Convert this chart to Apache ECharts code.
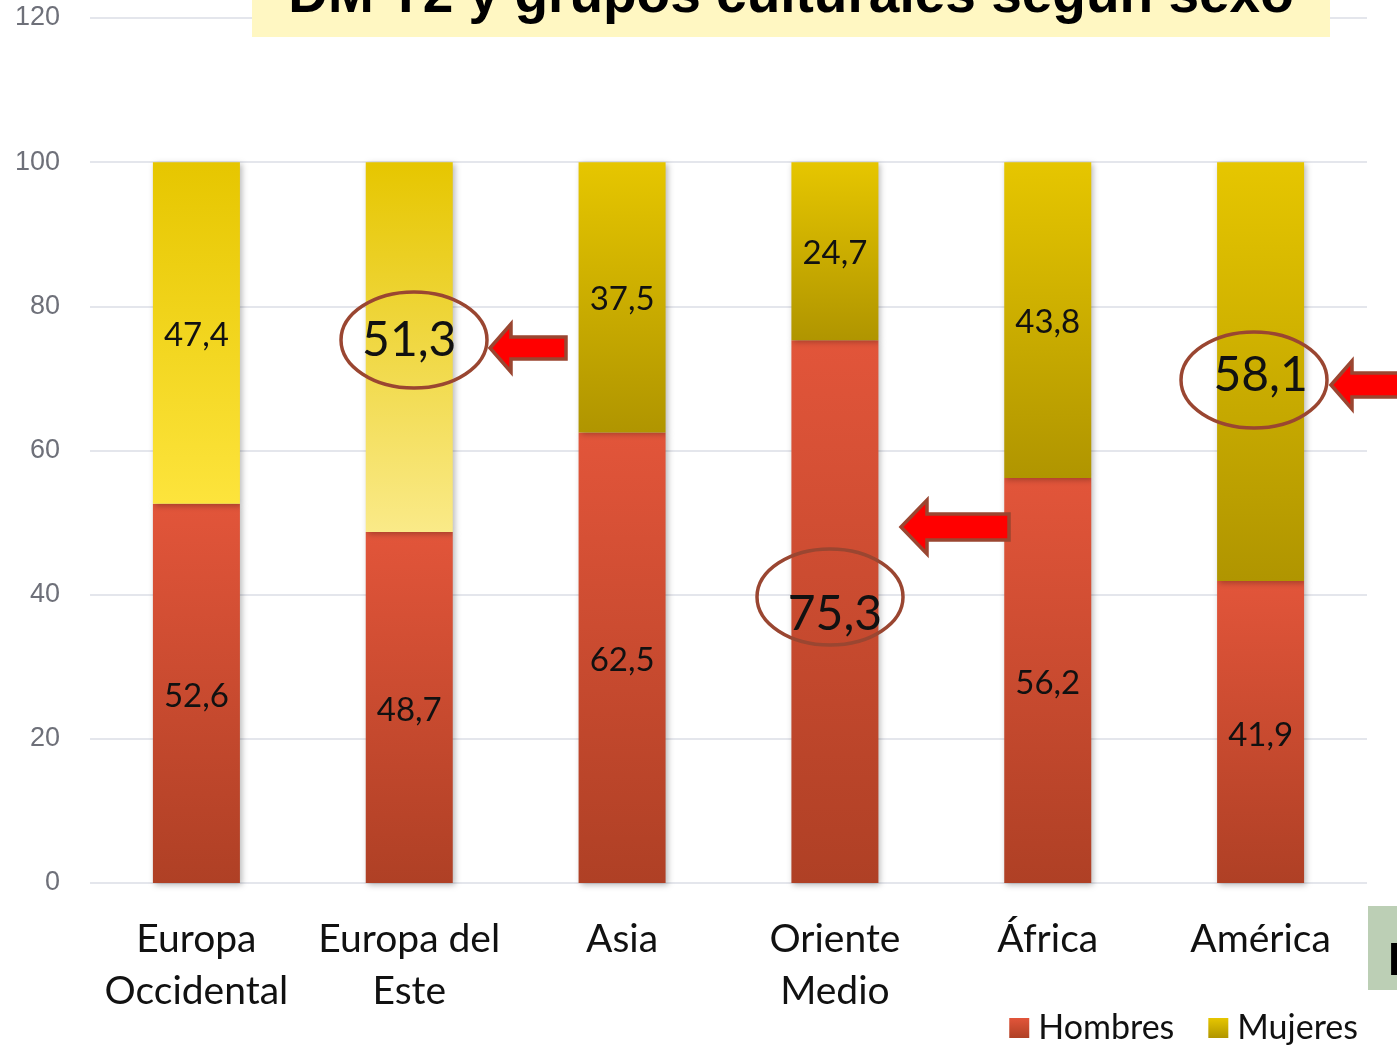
<!DOCTYPE html>
<html>
<head>
<meta charset="utf-8">
<script src="https://cdn.jsdelivr.net/npm/echarts@6/dist/echarts.min.js"></script>
<style>
html,body{margin:0;padding:0;background:#fff;}
#chart{width:1397px;height:1048px;}
</style>
</head>
<body>
<div id="chart"></div>
<script>
// ---- data ----
const categories = ['Europa\nOccidental', 'Europa del\nEste', 'Asia', 'Oriente\nMedio', 'África', 'América'];
const hombres = [52.6, 48.7, 62.5, 75.3, 56.2, 41.9];
const mujeres = [47.4, 51.3, 37.5, 24.7, 43.8, 58.1];
const yTicks = [0, 20, 40, 60, 80, 100, 120];
const seriesNames = ['Hombres', 'Mujeres'];
const titleText = 'DM T2 y grupos culturales según sexo';
const highlightedHombres = [3];      // Oriente Medio
const highlightedMujeres = [1, 5];   // Europa del Este, América

// ---- style ----
const FONT = 'Lato, "Noto Sans", sans-serif';
const mujeresBottom = ['#FDE43C', '#FAEA88', '#B09500', '#B09500', '#B09500', '#B09500'];
const bigLabelOffsetH = { 3: [0, 3] };
const bigLabelOffsetM = { 1: [0, -7], 5: [0, 4] };
function grad(top, bottom) {
  return new echarts.graphic.LinearGradient(0, 0, 0, 1, [
    { offset: 0, color: top }, { offset: 1, color: bottom }
  ]);
}
const shadow = { shadowBlur: 6, shadowColor: 'rgba(0,0,0,0.28)', shadowOffsetX: 2, shadowOffsetY: 2 };
const fmt = v => String(v).replace('.', ',');

const chart = echarts.init(document.getElementById('chart'), null, { renderer: 'canvas' });

const hData = hombres.map((v, i) => ({
  value: v,
  itemStyle: Object.assign({ color: grad('#E2553A', '#AF4025') }, shadow),
  label: highlightedHombres.includes(i) ? { fontSize: 48, offset: bigLabelOffsetH[i] } : undefined
}));
const mData = mujeres.map((v, i) => ({
  value: v,
  itemStyle: Object.assign({ color: grad('#E6C600', mujeresBottom[i]) }, shadow),
  label: highlightedMujeres.includes(i) ? { fontSize: 48, offset: bigLabelOffsetM[i] } : undefined
}));

const option = {
  animation: false,
  grid: { left: 90, right: 30, top: 18, bottom: 165 },
  legend: {
    data: seriesNames,
    icon: 'rect',
    right: 34, bottom: -2,
    itemWidth: 20, itemHeight: 20, itemGap: 34,
    textStyle: { fontFamily: FONT, fontSize: 34, color: '#111', padding: [0, 0, 0, 4] }
  },
  xAxis: {
    type: 'category',
    data: categories,
    axisLine: { show: false },
    axisTick: { show: false },
    axisLabel: { interval: 0, fontFamily: FONT, fontSize: 39, color: '#111', lineHeight: 52, margin: 30 }
  },
  yAxis: {
    type: 'value',
    min: yTicks[0], max: yTicks[yTicks.length - 1], interval: 20,
    axisLabel: { fontSize: 27, color: '#6E7079', margin: 30 },
    splitLine: { lineStyle: { color: '#E4E6EC', width: 2 } }
  },
  series: [
    {
      name: seriesNames[0], type: 'bar', stack: 'total', barWidth: 87,
      itemStyle: { color: grad('#E2553A', '#AF4025') },
      label: { show: true, position: 'inside', offset: [0, 3], fontFamily: FONT, fontSize: 33, color: '#111', formatter: p => fmt(p.value) },
      data: hData
    },
    {
      name: seriesNames[1], type: 'bar', stack: 'total', barWidth: 87,
      itemStyle: { color: grad('#E6C600', '#B09500') },
      label: { show: true, position: 'inside', offset: [0, 2], fontFamily: FONT, fontSize: 33, color: '#111', formatter: p => fmt(p.value) },
      data: mData
    }
  ]
};
chart.setOption(option);

// ---- annotations (decorations) ----
const BROWN = '#9A4631';
function ellipse(cx, cy) {
  return { type: 'ellipse', z: 100, shape: { cx, cy, rx: 73, ry: 48 }, style: { fill: 'none', stroke: BROWN, lineWidth: 3.5 } };
}
function arrow(tipX, tipY, headLen, headHalf, shaftHalf, endX) {
  const bx = tipX + headLen;
  return {
    type: 'polygon', z: 100,
    shape: { points: [[tipX, tipY], [bx, tipY - headHalf], [bx, tipY - shaftHalf], [endX, tipY - shaftHalf], [endX, tipY + shaftHalf], [bx, tipY + shaftHalf], [bx, tipY + headHalf]] },
    style: { fill: '#FF0000', stroke: BROWN, lineWidth: 3.5 }
  };
}
chart.setOption({
  graphic: [
    ellipse(414, 340),
    arrow(490, 348, 21, 24, 11, 566),
    ellipse(830, 597),
    arrow(901, 527, 26, 27, 13, 1009),
    ellipse(1254, 380),
    arrow(1331, 385, 21, 24, 12, 1420),
    {
      type: 'rect', z: 110, shape: { x: 252, y: -10, width: 1078, height: 47 },
      style: { fill: '#FFF7C2' }
    },
    {
      type: 'text', z: 111, x: 791, y: 24,
      style: { text: titleText, fontFamily: '"Liberation Sans", Arial, sans-serif', fontWeight: 'bold', fontSize: 55, fill: '#000', align: 'center', verticalAlign: 'bottom' }
    },
    {
      type: 'rect', z: 110, shape: { x: 1368, y: 906, width: 40, height: 84 },
      style: { fill: '#BCCFB5' }
    },
    {
      type: 'text', z: 111, x: 1388, y: 985,
      style: { text: 'D', fontFamily: '"Liberation Sans", Arial, sans-serif', fontWeight: 'bold', fontSize: 46, fill: '#000', verticalAlign: 'bottom' }
    }
  ]
});
</script>
</body>
</html>
